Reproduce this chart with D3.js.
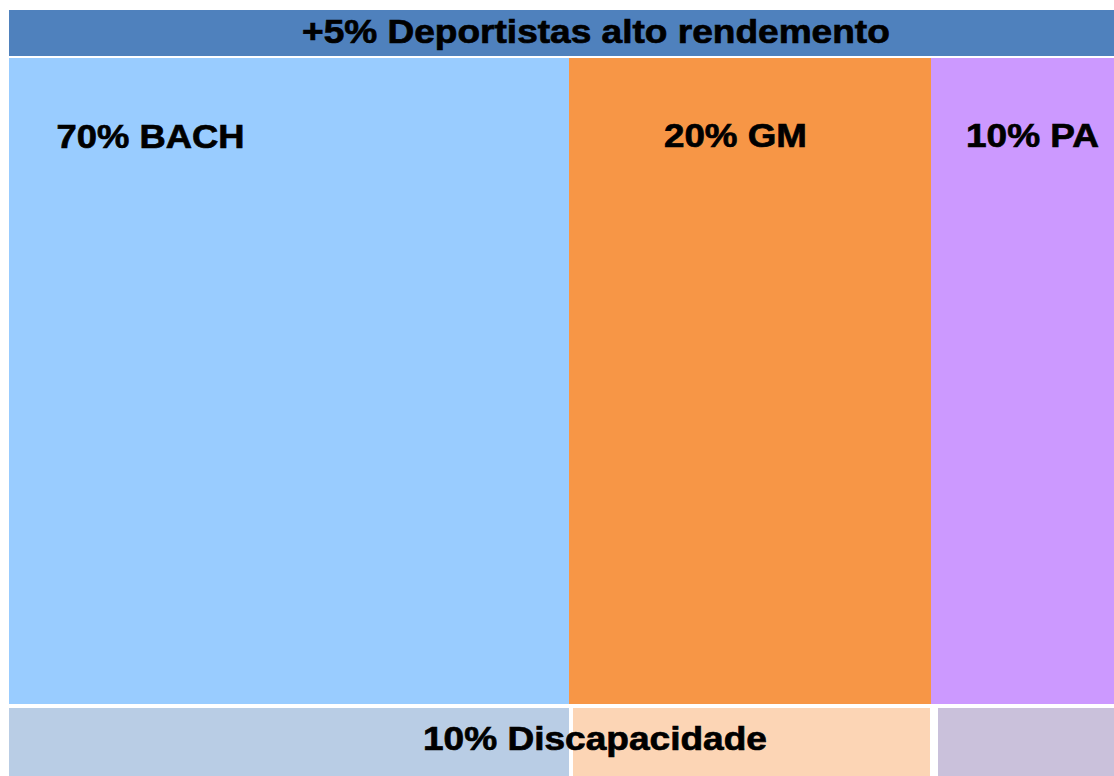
<!DOCTYPE html>
<html><head><meta charset="utf-8">
<script src="https://cdn.jsdelivr.net/npm/d3@7"></script>
<style>html,body{margin:0;padding:0;background:#fff;overflow:hidden}svg{display:block}</style>
</head><body>
<svg id="c" width="1114" height="776"></svg>
<script>
const categories = ["BACH", "GM", "PA"];
const shares = [70, 20, 10];
const topLabel = "+5% Deportistas alto rendemento";
const bottomLabel = "10% Discapacidade";
const mainColors = ["#99CCFF", "#F79646", "#CC99FF"];
const bottomColors = ["#B9CDE5", "#FCD5B5", "#CAC1DB"];

const svg = d3.select("#c");
const cum = [0];
shares.forEach(v => cum.push(cum[cum.length - 1] + v));
const x = d3.scaleLinear().domain(cum).range([9, 569, 931, 1134]);
const y = d3.scaleOrdinal().domain(["top", "main", "bottom"]).range([[10, 56], [58, 704], [708, 780]]);

const segs = categories.map((c, i) => ({c, v: shares[i], x0: x(cum[i]), x1: x(cum[i + 1])}));

// top band
svg.append("rect").attr("x", x(0)).attr("y", y("top")[0]).attr("width", x(100) - x(0))
  .attr("height", y("top")[1] - y("top")[0]).attr("fill", "#4F81BD");

// main blocks
svg.selectAll("rect.main").data(segs).join("rect").attr("class", "main")
  .attr("x", d => d.x0).attr("y", y("main")[0]).attr("width", d => d.x1 - d.x0)
  .attr("height", y("main")[1] - y("main")[0]).attr("fill", (d, i) => mainColors[i]);

// bottom blocks (with white gaps)
const insetL = [0, 4, 7], insetR = [0, 1, 0];
svg.selectAll("rect.bot").data(segs).join("rect").attr("class", "bot")
  .attr("x", (d, i) => d.x0 + insetL[i]).attr("y", y("bottom")[0])
  .attr("width", (d, i) => d.x1 - d.x0 - insetL[i] - insetR[i])
  .attr("height", y("bottom")[1] - y("bottom")[0]).attr("fill", (d, i) => bottomColors[i]);

const font = "'Liberation Sans', Arial, sans-serif";
function label(txt, x0, base, len) {
  const t = svg.append("text").attr("x", 0).attr("y", 0).text(txt)
    .attr("font-family", font).attr("font-weight", "bold").attr("font-size", 33.5)
    .attr("fill", "#000").attr("stroke", "#000").attr("stroke-width", 0.7);
  const w = t.node().getComputedTextLength();
  t.attr("transform", `translate(${x0},${base}) scale(${len / w},1)`);
}
label(topLabel, 302, 43.3, 588);
const lblX = [56.5, 664, 966], lblW = [188, 143, 133], lblB = [147.7, 146.7, 146.7];
segs.forEach((d, i) => label(d.v + "% " + d.c, lblX[i], lblB[i], lblW[i]));
label(bottomLabel, 423, 750, 344);
</script>
</body></html>
